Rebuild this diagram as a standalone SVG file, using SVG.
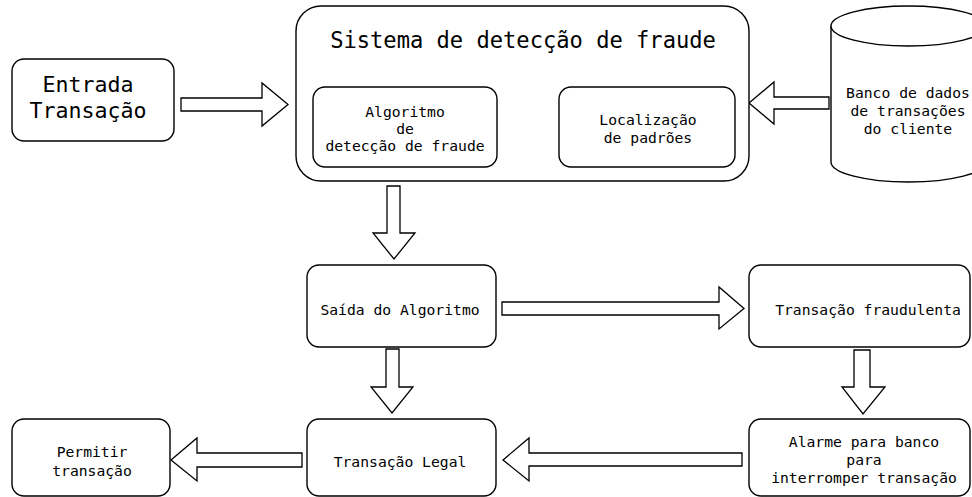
<svg xmlns="http://www.w3.org/2000/svg" width="972" height="497" viewBox="0 0 972 497">
<style>
  .box { fill: #fff; stroke: #000; stroke-width: 1.4; }
  .arr { fill: #fff; stroke: #000; stroke-width: 1.3; stroke-linejoin: miter; }
  text { font-family: "DejaVu Sans Mono", "Liberation Mono", monospace; fill: #000; text-anchor: middle; }
  .s { font-size: 14.7px; }
  .m { font-size: 21.6px; }
  .l { font-size: 22.1px; }
</style>
<rect width="972" height="497" fill="#fff"/>

<g id="connectors">
  <polygon class="arr" points="181,98 262,98 262,83 288,104.5 262,126 262,111 181,111"/>
  <polygon class="arr" points="829,97 774,97 774,82 749,103 774,124 774,109 829,109"/>
  <polygon class="arr" points="387,186 400,186 400,233 415,233 394,259 373,233 387,233"/>
  <polygon class="arr" points="502,302 719,302 719,287 744,308.5 719,329 719,315 502,315"/>
  <polygon class="arr" points="386,349 399,349 399,387 413,387 392,413 371,387 386,387"/>
  <polygon class="arr" points="854,350 870,350 870,387 885,387 863,414 842,387 854,387"/>
  <polygon class="arr" points="302,453 197,453 197,438 171,460 197,481 197,467 302,467"/>
  <polygon class="arr" points="742,453 529,453 529,438 503,460 529,481 529,466 742,466"/>
</g>

<g id="entrada">
  <rect class="box" x="12" y="59" width="162" height="82" rx="12"/>
  <text class="m" x="88" y="92">Entrada</text>
  <text class="m" x="88" y="118">Transação</text>
</g>

<g id="sistema">
  <rect class="box" x="296" y="6" width="453" height="175" rx="25"/>
  <text class="l" x="523" y="48">Sistema de detecção de fraude</text>
</g>

<g id="algoritmo">
  <rect class="box" x="313" y="87" width="184" height="80" rx="12"/>
  <text class="s" x="405" y="117">Algoritmo</text>
  <text class="s" x="405" y="134">de</text>
  <text class="s" x="405" y="151">detecção de fraude</text>
</g>

<g id="localizacao">
  <rect class="box" x="559" y="87" width="176" height="80" rx="12"/>
  <text class="s" x="648" y="125">Localização</text>
  <text class="s" x="648" y="143">de padrões</text>
</g>

<g id="banco">
  <path class="box" d="M831,26 L831,162 A77.5,20 0 0 0 986,162 L986,26 A77.5,20 0 0 0 831,26 Z"/>
  <path class="box" fill="none" d="M831,26 A77.5,20 0 0 0 986,26"/>
  <text class="s" x="908" y="98">Banco de dados</text>
  <text class="s" x="908" y="116">de transações</text>
  <text class="s" x="908" y="134">do cliente</text>
</g>

<g id="saida">
  <rect class="box" x="307" y="265" width="189" height="82" rx="12"/>
  <text class="s" x="400" y="315">Saída do Algoritmo</text>
</g>

<g id="fraudulenta">
  <rect class="box" x="749" y="265" width="221" height="82" rx="12"/>
  <text class="s" x="868" y="315">Transação fraudulenta</text>
</g>

<g id="legal">
  <rect class="box" x="307" y="419" width="189" height="77" rx="12"/>
  <text class="s" x="400" y="467">Transação Legal</text>
</g>

<g id="permitir">
  <rect class="box" x="12" y="419" width="158" height="77" rx="12"/>
  <text class="s" x="92" y="457">Permitir</text>
  <text class="s" x="92" y="476">transação</text>
</g>

<g id="alarme">
  <rect class="box" x="749" y="419" width="221" height="77" rx="12"/>
  <text class="s" x="864" y="447">Alarme para banco</text>
  <text class="s" x="864" y="465">para</text>
  <text class="s" x="864" y="483">interromper transação</text>
</g>
</svg>
